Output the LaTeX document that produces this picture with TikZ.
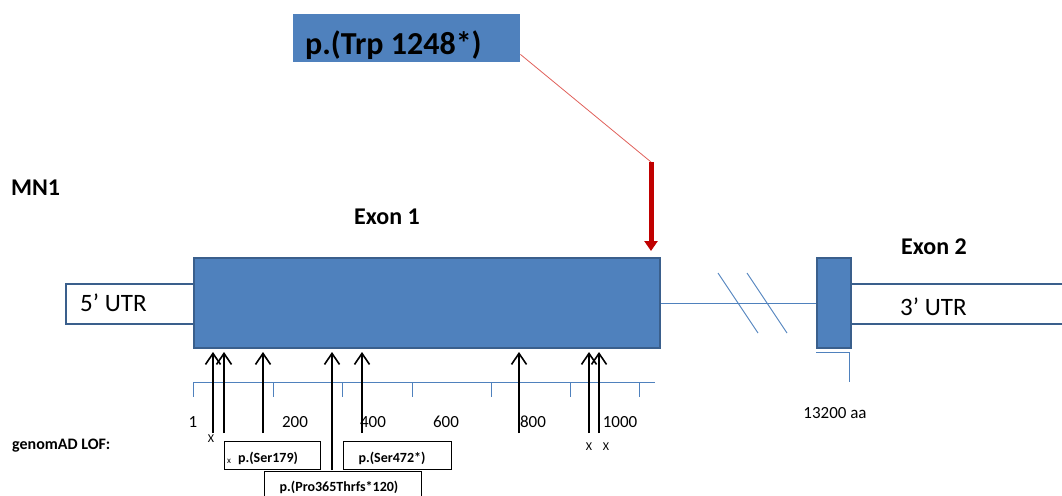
\documentclass[tikz,border=0pt]{standalone}
\usepackage{fontspec}
\setmainfont{Carlito}
\usetikzlibrary{arrows.meta}
\definecolor{ink}{HTML}{000000}
\definecolor{exonblau}{HTML}{4F81BD}
\definecolor{exonrand}{HTML}{3A5F8C}
\definecolor{stopprot}{HTML}{C00000}
\definecolor{leitrot}{HTML}{E0605A}
\newcommand{\titel}{\fontsize{32}{38}\selectfont\bfseries}
\newcommand{\kopf}{\fontsize{24}{28}\selectfont\bfseries}
\newcommand{\utr}{\fontsize{25}{30}\selectfont}
\newcommand{\skal}{\fontsize{17}{20}\selectfont}
\newcommand{\lof}{\fontsize{14}{17}\selectfont\bfseries}
\newcommand{\winzig}{\fontsize{12}{14}\selectfont}
\tikzset{exon/.style={draw=exonrand,fill=exonblau,line width=2pt,inner sep=0},
  utrbox/.style={draw=exonrand,fill=white,line width=2pt,inner sep=0},
  skala/.style={exonblau,line width=0.9pt},
  lofpfeil/.style={ink,line width=1.6pt,-{Straight Barb[length=11pt,width=15pt]}},
  stopppfeil/.style={stopprot,line width=5pt,-{Triangle[length=10pt,width=13pt]}},
  varbox/.style={draw=ink,fill=white,line width=0.6pt,inner sep=0}}

\begin{document}
\begin{tikzpicture}[x=1pt,y=-1pt]
\useasboundingbox (0,0) rectangle (1062,495);
% Variante oben
\node[fill=exonblau,inner sep=0,minimum width=227pt,minimum height=48pt,anchor=north west] (titel) at (293,14) {};
\node[anchor=base west,inner sep=0,text=ink,font=\titel] (titeltext) at (305,55) {p.(Trp 1248*)};
\coordinate (stoppkopf) at (651,162);
\coordinate (stoppfuss) at (651,251);
\draw[leitrot,line width=0.8pt] ([yshift=8pt]titel.south east) -- (stoppkopf);
\draw[stopppfeil] (stoppkopf) -- (stoppfuss);
\node[anchor=west,inner sep=0,text=ink,font=\kopf] (gen) at (11,188) {MN1};
\node[inner sep=0,text=ink,font=\kopf] (exeinstext) at (387,217) {Exon 1};
\node[inner sep=0,text=ink,font=\kopf] (exzweitext) at (934,247) {Exon 2};
% UTRs und Exons
\node[utrbox,minimum width=128pt,minimum height=40pt,anchor=north west] (utrfuenf) at (65,283) {};
\node[anchor=west,inner sep=0,text=ink,font=\utr] (utrfuenftext) at (80,303) {5’ UTR};
\node[utrbox,minimum width=219pt,minimum height=40pt,anchor=north west] (utrdrei) at (847,283) {};
\node[anchor=west,inner sep=0,text=ink,font=\utr] (utrdreitext) at (900,307) {3’ UTR};
\node[exon,minimum width=466pt,minimum height=90pt,anchor=north west] (exoneins) at (193,257) {};
\node[exon,minimum width=34pt,minimum height=90pt,anchor=north west] (exonzwei) at (816,257) {};
\draw[skala] (exoneins.east) -- (exonzwei.west);
\draw[skala] (718,273) -- (758,333);
\draw[skala] (747,273) -- (787,333);
\draw[skala] (816,352) -- (849,352) -- (849,382);
\node[inner sep=0,text=ink,font=\skal] (laenge) at (835,413) {13200 aa};
% Skala
\draw[skala] (193,382) -- (655,382);
\foreach \t in {193,273,342,412,491,570,639}
  \draw[skala] (\t,382) -- (\t,397);
\foreach \x/\z in {193/1,295/200,373/400,446/600,533/800,620/1000}
  \node[inner sep=0,text=ink,font=\skal] (tick\z) at (\x,422) {\z};
\node[anchor=west,inner sep=0,text=ink,font=\fontsize{16}{19}\selectfont\bfseries] (loftext) at (12,446) {genomAD LOF:};
% LOF-Varianten
\coordinate (spitze) at (0,352);
\foreach \x/\y [count=\i] in {213/433,224/433,263/433,332/470,362/433,519/433,589/433,599/433}{
  \coordinate (fuss\i) at (\x,\y);
  \draw[lofpfeil] (fuss\i) -- (fuss\i |- spitze);}
\node[inner sep=0,text=ink,font=\winzig] (xa) at (211,439) {X};
\node[inner sep=0,text=ink,font=\winzig] (xb) at (589,447) {X};
\node[inner sep=0,text=ink,font=\winzig] (xc) at (606,447) {X};
\node[varbox,minimum width=96pt,minimum height=28pt,anchor=north west] (serA) at (224,441) {};
\node[inner sep=0,text=ink,font=\lof] (serAtext) at (268,458) {p.(Ser179)};
\node[inner sep=0,text=ink,font=\fontsize{9}{10}\selectfont] (xd) at (229,461) {x};
\node[varbox,minimum width=108pt,minimum height=28pt,anchor=north west] (serB) at (343,441) {};
\node[inner sep=0,text=ink,font=\lof] (serBtext) at (392,458) {p.(Ser472*)};
\node[varbox,minimum width=157pt,minimum height=30pt,anchor=north west] (pro) at (264,471) {};
\node[inner sep=0,text=ink,font=\lof] (protext) at (339,487) {p.(Pro365Thrfs*120)};
\end{tikzpicture}
\end{document}
